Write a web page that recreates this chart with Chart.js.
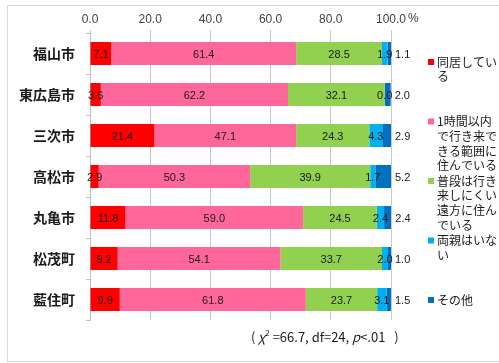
<!DOCTYPE html>
<html>
<head>
<meta charset="utf-8">
<script src="https://cdn.jsdelivr.net/npm/chart.js@4/dist/chart.umd.min.js"></script>
<style>
  html, body { margin: 0; padding: 0; background: #fff; }
  #wrap { width: 499px; height: 363px; position: relative; }
</style>
</head>
<body>
<div id="wrap"><canvas id="c" width="499" height="363"></canvas></div>
<script>
// Areas surveyed
const categories = ['福山市', '東広島市', '三次市', '高松市', '丸亀市', '松茂町', '藍住町'];

// Response categories (legend order)
const seriesNames = [
  '同居している',
  '1時間以内で行き来できる範囲に住んでいる',
  '普段は行き来しにくい遠方に住んでいる',
  '両親はいない',
  'その他'
];

// Percentages per area
const livingTogether = [7.1, 3.6, 21.4, 2.9, 11.8, 9.2, 9.9];
const withinOneHour  = [61.4, 62.2, 47.1, 50.3, 59.0, 54.1, 61.8];
const farAway        = [28.5, 32.1, 24.3, 39.9, 24.5, 33.7, 23.7];
const noParents      = [1.9, 0.0, 4.3, 1.7, 2.4, 2.0, 3.1];
const otherAnswer    = [1.1, 2.0, 2.9, 5.2, 2.4, 1.0, 1.5];

const seriesColors = ['#FF0000', '#FF6699', '#92D050', '#00B0F0', '#0070C0'];
const xTickValues = [0, 20, 40, 60, 80, 100];
const statNote = { chi: '66.7', df: '24', p: '.01' };

const seriesValues = [livingTogether, withinOneHour, farAway, noParents, otherAnswer];

const JP = '"Noto Sans CJK JP", "Noto Sans", sans-serif';
const LAT = '"Liberation Sans", Arial, sans-serif';

// Frame around the whole figure
const framePlugin = {
  id: 'frame',
  beforeDraw(chart) {
    const ctx = chart.ctx;
    ctx.save();
    ctx.fillStyle = '#ffffff';
    ctx.fillRect(0, 0, chart.width, chart.height);
    ctx.strokeStyle = '#d9d9d9';
    ctx.lineWidth = 1;
    ctx.strokeRect(7.5, 5.5, 500, 356);
    ctx.restore();
  }
};

// Value labels on each segment
const valueLabels = {
  id: 'valueLabels',
  afterDatasetsDraw(chart) {
    const ctx = chart.ctx;
    ctx.save();
    ctx.font = '11px ' + LAT;
    ctx.fillStyle = '#1a1a1a';
    ctx.textBaseline = 'middle';
    const last = chart.data.datasets.length - 1;
    chart.data.datasets.forEach((ds, di) => {
      const meta = chart.getDatasetMeta(di);
      meta.data.forEach((el, i) => {
        const p = el.getProps(['x', 'base', 'y'], true);
        const txt = ds.data[i].toFixed(1);
        const mid = (p.x + p.base) / 2;
        if (di === last) {
          ctx.textAlign = 'left';
          ctx.fillText(txt, Math.max(mid + 4, p.x + 4), p.y + 1);
        } else {
          ctx.textAlign = 'center';
          ctx.fillText(txt, mid, p.y + 1);
        }
      });
    });
    ctx.restore();
  }
};

// Split a label into lines of at most five full-width characters
function wrapLabel(name) {
  const lines = [];
  let cur = '', units = 0;
  for (const ch of name) {
    const u = ch.charCodeAt(0) < 0x100 ? 0.5 : 1;
    if (cur && units + u > 5) { lines.push(cur); cur = ''; units = 0; }
    cur += ch;
    units += u;
  }
  if (cur) lines.push(cur);
  return lines;
}

// Legend with wrapped labels, unit mark and statistics note
const extras = {
  id: 'extras',
  afterDraw(chart) {
    const ctx = chart.ctx;
    const xs = chart.scales.x;
    ctx.save();

    // unit next to the last tick
    ctx.font = '12px ' + LAT;
    ctx.fillStyle = '#404040';
    ctx.textAlign = 'left';
    ctx.textBaseline = 'middle';
    ctx.fillText('%', xs.getPixelForValue(100) + 17, 19);

    // legend
    ctx.font = '12px ' + JP;
    seriesNames.forEach((name, i) => {
      const lines = wrapLabel(name);
      const y0 = 62 + i * 59.5;
      ctx.fillStyle = seriesColors[i];
      ctx.fillRect(428, y0 - 3, 6, 6);
      ctx.fillStyle = '#1a1a1a';
      ctx.textAlign = 'left';
      ctx.textBaseline = 'middle';
      lines.forEach((ln, k) => ctx.fillText(ln, 437, y0 + k * 14.8));
    });

    // chi-square note
    let x = 251;
    const y = 337;
    ctx.fillStyle = '#1a1a1a';
    ctx.textBaseline = 'middle';
    const put = (t, font, dy) => {
      ctx.font = font;
      ctx.fillText(t, x, y + (dy || 0));
      x += ctx.measureText(t).width;
    };
    put('( ', '13px ' + JP);
    put('χ', 'italic 13px ' + JP);
    put('2', '8px ' + JP, -4);
    put(' =' + statNote.chi + ', df=' + statNote.df + ', ', '13px ' + JP);
    put('p', 'italic 13px ' + JP);
    put('<' + statNote.p + '   )', '13px ' + JP);

    ctx.restore();
  }
};

new Chart(document.getElementById('c'), {
  type: 'bar',
  data: {
    labels: categories,
    datasets: seriesValues.map((vals, i) => ({
      label: seriesNames[i],
      data: vals,
      backgroundColor: seriesColors[i],
      borderWidth: 0,
      barPercentage: 0.56,
      categoryPercentage: 1.0
    }))
  },
  options: {
    indexAxis: 'y',
    responsive: false,
    animation: false,
    layout: { padding: { left: 0, right: 108, top: 0, bottom: 43 } },
    plugins: { legend: { display: false }, tooltip: { enabled: false } },
    scales: {
      x: {
        position: 'top',
        stacked: true,
        min: 0,
        max: 100,
        afterBuildTicks(scale) { scale.ticks = xTickValues.map(v => ({ value: v })); },
        afterFit(scale) { scale.height = 33; },
        ticks: {
          callback: v => Number(v).toFixed(1),
          font: { family: LAT, size: 12 },
          color: '#404040',
          padding: 3,
          maxRotation: 0
        },
        grid: { color: '#c8c8c8', tickLength: 3, drawTicks: true },
        border: { display: false }
      },
      y: {
        stacked: true,
        afterFit(scale) { scale.width = 90; },
        ticks: {
          font: { family: JP, size: 14, weight: 'bold' },
          color: '#1a1a1a',
          padding: 11
        },
        grid: { offset: true, drawOnChartArea: false, drawTicks: true, tickLength: 4, color: '#bfbfbf' },
        border: { display: true, color: '#bfbfbf' }
      }
    }
  },
  plugins: [framePlugin, valueLabels, extras]
});
</script>
</body>
</html>
